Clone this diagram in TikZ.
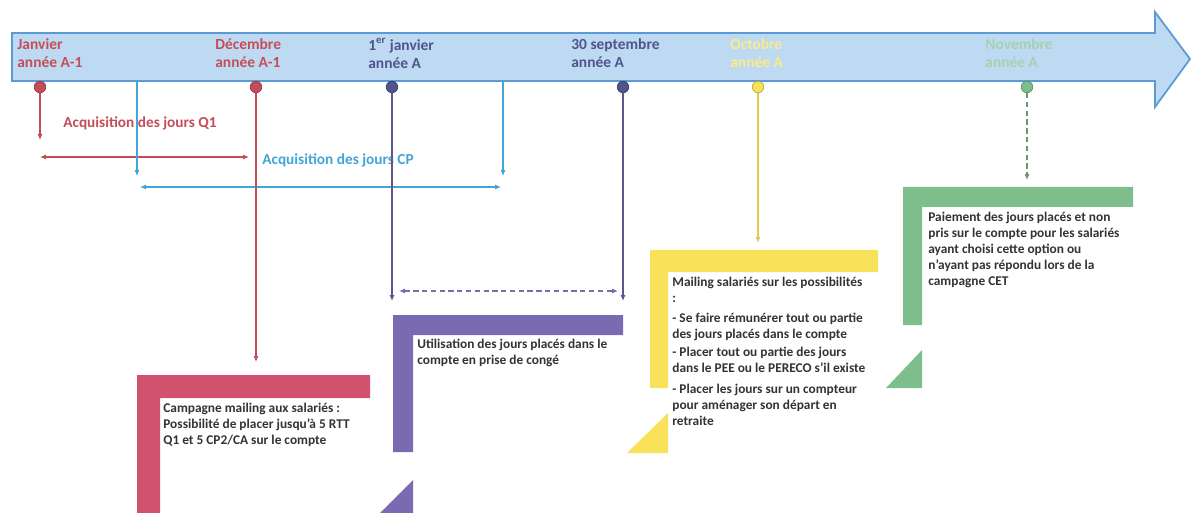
\documentclass[tikz,border=0pt]{standalone}
\usepackage{fontspec}
\setmainfont{Carlito}
\usepackage{tikz}
\usetikzlibrary{arrows.meta, positioning, calc}
\definecolor{arrowfill}{RGB}{190,218,242}
\definecolor{arrowline}{RGB}{91,155,213}
\definecolor{q1red}{RGB}{196,78,88}
\definecolor{boxred}{RGB}{208,82,110}
\definecolor{cpblue}{RGB}{66,165,215}
\definecolor{usepurple}{RGB}{122,106,178}
\definecolor{datepurple}{RGB}{80,84,140}
\definecolor{mailyellow}{RGB}{247,226,90}
\definecolor{paygreen}{RGB}{125,190,140}

\begin{document}
\begin{tikzpicture}[x=0.02cm, y=-0.02cm,
    datelbl/.style={anchor=north west, align=left, inner sep=0pt, font=\fontsize{8.8}{10.3}\selectfont\bfseries},
    boxtext/.style={anchor=north west, align=left, inner sep=0pt, text=black!80, font=\fontsize{7.6}{9.1}\selectfont\bfseries},
    steplbl/.style={inner sep=0pt, font=\fontsize{8.7}{10}\selectfont\bfseries},
    dot/.style={circle, inner sep=0pt, minimum size=2.3mm, draw=#1!75!black, fill=#1},
    link/.style={-{Latex[length=1.2mm,width=1mm]}, line width=0.6pt},
    span/.style={{Latex[length=1.2mm,width=1mm]}-{Latex[length=1.2mm,width=1mm]}, line width=0.6pt}
]
\useasboundingbox (0,0) rectangle (1193,513);

% timeline arrow
\draw[arrowline, fill=arrowfill, line width=1pt]
    (12,33) -- (1155,33) -- (1155,12) -- (1190,59) -- (1155,107) -- (1155,81) -- (12,81) -- cycle;

% dates
\node[datelbl, text=q1red] (jan) at (17,38) {Janvier\\année A-1};
\node[datelbl, text=q1red] (dec) at (215,38) {Décembre\\année A-1};
\node[datelbl, text=datepurple] (janA) at (368,38) {1\textsuperscript{er} janvier\\année A};
\node[datelbl, text=datepurple] (sep) at (571,38) {30 septembre\\année A};
\node[datelbl, text=mailyellow!70] (oct) at (730,38) {Octobre\\année A};
\node[datelbl, text=paygreen!70] (nov) at (985,38) {Novembre\\année A};

\node[dot=q1red] (d1) at (40,87) {};
\node[dot=q1red] (d2) at (256,87) {};
\node[dot=datepurple] (d3) at (392,87) {};
\node[dot=datepurple] (d4) at (623,87) {};
\node[dot=mailyellow] (d5) at (758,87) {};
\node[dot=paygreen] (d6) at (1027,87) {};

\coordinate (cp1) at (137,81);
\coordinate (cp2) at (503,81);

% acquisition periods
\coordinate (q1end) at (40,140);
\coordinate (q1a) at (40,157);
\coordinate (q1b) at (249,157);
\coordinate (cp1end) at (137,176);
\coordinate (cp2end) at (503,176);
\coordinate (cpa) at (140,187);
\coordinate (cpb) at (501,187);
\coordinate (usea) at (399,291);
\coordinate (useb) at (618,291);

\draw[link, q1red] (d1) -- (q1end);
\draw[span, q1red] (q1a) -- (q1b);
\node[steplbl, text=q1red, anchor=west] (q1lbl) at (63,123) {Acquisition des jours Q1};

\draw[link, cpblue] (cp1) -- (cp1end);
\draw[link, cpblue] (cp2) -- (cp2end);
\draw[span, cpblue] (cpa) -- (cpb);
\node[steplbl, text=cpblue, anchor=west] (cplbl) at (262,160) {Acquisition des jours CP};

% corner boxes
\fill[boxred] (137,375) rectangle (370,398) (137,375) rectangle (160,513);
\fill[usepurple] (393,315) rectangle (623,335) (393,315) rectangle (413,452);
\fill[usepurple] (380,513) -- (413,480) -- (413,513) -- cycle;
\fill[mailyellow] (650,250) rectangle (878,272) (650,250) rectangle (668,388);
\fill[mailyellow] (627,453) -- (668,413) -- (668,453) -- cycle;
\fill[paygreen] (903,187) rectangle (1133,207) (903,187) rectangle (922,325);
\fill[paygreen] (886,388) -- (922,350) -- (922,388) -- cycle;

\coordinate (redtop) at (256,362);
\coordinate (usetop1) at (392,301);
\coordinate (usetop2) at (623,301);
\coordinate (mailtop) at (758,243);
\coordinate (paytop) at (1027,180);

\draw[link, q1red] (d2) -- (redtop);
\draw[link, usepurple!80!black] (d3) -- (usetop1);
\draw[link, usepurple!80!black] (d4) -- (usetop2);
\draw[span, usepurple, densely dashed] (usea) -- (useb);
\draw[link, mailyellow!90!black] (d5) -- (mailtop);
\draw[link, paygreen!80!black, densely dashed] (d6) -- (paytop);

\node[boxtext] (campagne) at (163,403) {Campagne mailing aux salariés :\\Possibilité de placer jusqu’à 5 RTT\\Q1 et 5 CP2/CA sur le compte};
\node[boxtext] (utilisation) at (417,339) {Utilisation des jours placés dans le\\compte en prise de congé};
\node[boxtext] (mailing) at (672,277) {Mailing salariés sur les possibilités\\:\\[2pt]- Se faire rémunérer tout ou partie\\des jours placés dans le compte\\[1.5pt]- Placer tout ou partie des jours\\dans le PEE ou le PERECO s’il existe\\[2.5pt]- Placer les jours sur un compteur\\pour aménager son départ en\\retraite};
\node[boxtext] (paiement) at (928,212) {Paiement des jours placés et non\\pris sur le compte pour les salariés\\ayant choisi cette option ou\\n’ayant pas répondu lors de la\\campagne CET};
\end{tikzpicture}
\end{document}
